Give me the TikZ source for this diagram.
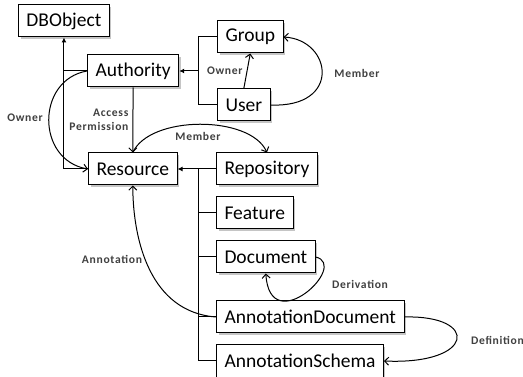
\documentclass[tikz,border=0pt]{standalone}
\usepackage{fontspec}
\setmainfont{Carlito}
\newfontfamily\lblfont[LetterSpace=6.0]{Carlito}
\usetikzlibrary{arrows.meta,positioning,shadows}
\definecolor{lblgray}{HTML}{404040}

\tikzset{
  box/.style={draw, line width=1pt, fill=white, anchor=west, minimum height=32pt,
    inner xsep=8pt, font=\fontsize{19.5}{22}\selectfont,
    drop shadow={shadow xshift=2pt, shadow yshift=-2pt, fill=black!45, opacity=0.5}},
  inh/.style={line width=1pt, -{Latex[length=5pt,width=5pt]}},
  assoc/.style={line width=1pt, -{Straight Barb[length=4pt,width=8pt]}},
  lbl/.style={font=\lblfont\bfseries\fontsize{11.6}{13.5}\selectfont, text=lblgray, inner sep=2pt},
}

\begin{document}
\begin{tikzpicture}[x=1pt,y=-1pt]
\useasboundingbox (0,0) rectangle (523,377);

% classes
\node[box] (dbobject) at (18,21) {DBObject};
\node[box] (authority) at (87,71) {Authority};
\node[box] (group) at (217,37) {Group};
\node[box] (user) at (217,105) {User};
\node[box] (resource) at (88,169) {Resource};
\node[box] (repository) at (216,169) {Repository};
\node[box] (feature) at (216,213) {Feature};
\node[box] (document) at (216,257) {Document};
\node[box] (annodoc) at (216,317) {AnnotationDocument};
\node[box] (annoschema) at (216,361) {AnnotationSchema};

% junctions
\coordinate (ga) at (198,71);
\coordinate (rs) at (198,169);

% inheritance
\draw[inh] (resource.west) -| (dbobject.south);
\draw[line width=1pt] (authority.west) -- (authority.west -| dbobject.south);
\draw[line width=1pt] (group.west) -| (ga);
\draw[line width=1pt] (user.west) -| (ga);
\draw[inh] (ga) -- (authority.east);
\draw[line width=1pt] (repository.west) -- (rs);
\draw[line width=1pt] (feature.west) -| (rs);
\draw[line width=1pt] (document.west) -| (rs);
\draw[line width=1pt] (annodoc.west) -| (rs);
\draw[line width=1pt] (annoschema.west) -| (rs);
\draw[inh] (rs) -- (resource.east);

% associations
\draw[assoc] (authority.west) .. controls (36,80) and (36,160) .. (resource.west);
\node[lbl] (lowner) at (25,118) {Owner};

\draw[assoc] (authority.south) -- node[lbl, left, align=right, inner sep=4pt] (lperm) {Access\\Permission} (resource.north);

\draw[assoc] (user.north) -- node[lbl, left, inner sep=4pt] (lgowner) {Owner} (group.south);

\draw[assoc] (user.east) .. controls (342,108) and (332,40) .. (group.east);
\node[lbl] (lmember) at (357,73) {Member};

\draw[assoc] (resource.north) .. controls (150,115) and (250,115) .. (repository.north);
\node[lbl] (lrmember) at (198,136) {Member};

\draw[assoc] (annodoc.west) .. controls (150,312) and (133,240) .. (resource.south);
\node[lbl] (lanno) at (112,259) {Annotation};

\draw[assoc] (document.east) .. controls (350,265) and (270,340) .. (document.south);
\node[lbl] (lderiv) at (360,284) {Derivation};

\draw[assoc] (annodoc.east) .. controls (480,315) and (475,365) .. (annoschema.east);
\node[lbl, anchor=east] (ldef) at (526,340) {Definition};
\end{tikzpicture}
\end{document}
